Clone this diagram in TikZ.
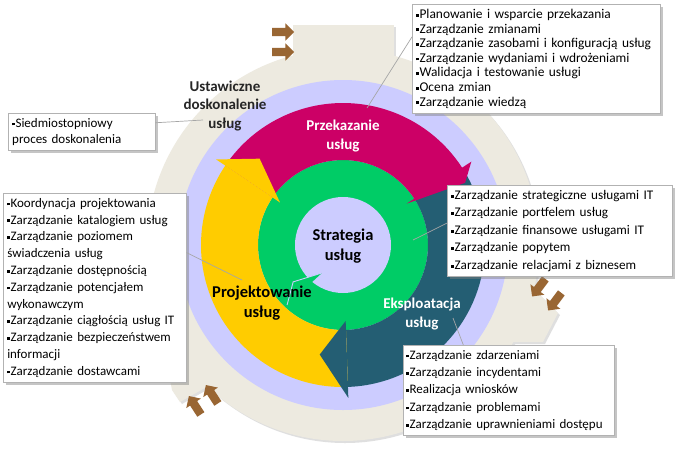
\documentclass[tikz,border=0pt]{standalone}
\usepackage{fontspec}
\setmainfont{Carlito}
\usetikzlibrary{shapes.arrows}
\usetikzlibrary{shadows}
\definecolor{csiBeige}{RGB}{237,234,224}
\definecolor{csiLav}{RGB}{204,204,255}
\definecolor{stMagenta}{RGB}{204,0,102}
\definecolor{soTeal}{RGB}{36,94,115}
\definecolor{sdYellow}{RGB}{255,204,0}
\definecolor{ssGreen}{RGB}{0,204,102}
\definecolor{stepBrown}{RGB}{153,102,51}
\definecolor{darkText}{RGB}{38,38,38}
\newcommand\sqb{\rule[0.3ex]{2.8pt}{2.8pt}\kern0.5pt}
\tikzset{
    listbox/.style={
           rectangle,
           draw=gray!60, fill=white,
           line width=0.5pt,
           anchor=north west,
           align=left,
           inner xsep=4pt, inner ysep=5pt,
           text=black,
           drop shadow={shadow xshift=2.5pt, shadow yshift=-2.5pt, opacity=0.45},
           },
    phase/.style={
           align=center,
           font=\fontsize{15}{18.5}\selectfont\bfseries,
           },
    bigphase/.style={
           align=center,
           font=\fontsize{16.5}{20}\selectfont\bfseries,
           },
    pinline/.style={draw=gray!70, line width=0.7pt},
    steparrow/.style={
           single arrow,
           fill=stepBrown,
           inner sep=0pt,
           text height=8pt, text depth=0pt,
           minimum height=22pt,
           single arrow head extend=4.5pt,
           single arrow head indent=0pt,
           },
}
\begin{document}
\begin{tikzpicture}[x=1pt,y=-1pt]
    \useasboundingbox[fill=white] (0,0) rectangle (685,448);
    \coordinate (O) at (343,245);
    % outer ring (ustawiczne doskonalenie)
    \begin{scope}[shift={(O)}]
        \foreach \dx/\col in {2/gray!25, 0/csiBeige} {
            \begin{scope}[shift={(\dx,\dx)}]
                \fill[\col] (0,0) circle[radius=196];
                \fill[\col] (-50,-220) rectangle (51,-185);
                \fill[\col] (172,17) -- (190,43) -- (215,68) -- (200,97) -- (157,97) -- cycle;
                \fill[\col] (-178,110) -- (-171,145) -- (-163,157) -- (-133,140) -- (-128,125) -- cycle;
            \end{scope}
        }
        \fill[csiLav] (0,0) circle[radius=165];
        % strategy ring
        \fill[ssGreen] (0,0) circle[radius=85];
        \fill[csiLav] (0,0) circle[radius=48];
        \fill[ssGreen] (127:35) -- (143.5:62) -- (133:82) -- cycle;
        \draw[csiLav, line width=0.9pt] (127:35) -- (143.5:62) -- (133:82);
        % colored ring
        \foreach \col/\a/\b in {stMagenta/214/328, soTeal/328/448, sdYellow/448/574}
            \fill[\col] (\a:142) arc[start angle=\a, end angle=\b, radius=142]
                -- (\b:85) arc[start angle=\b, end angle=\a, radius=85] -- cycle;
        \foreach \col/\b/\t/\r in {stMagenta/327/333/137, soTeal/448/462/112, sdYellow/574/586/120}
            \fill[\col] (\b:76) -- (\b:153) -- (\t:\r) -- cycle;
    \end{scope}

    \node[phase, text=darkText] (ust) at (225,106) {Ustawiczne\\doskonalenie\\usług};
    \node[phase, text=white] (prz) at (343,136) {Przekazanie\\usług};
    \node[bigphase, text=black] (strat) at (343,246) {Strategia\\usług};
    \node[bigphase, text=black] (proj) at (262,303) {Projektowanie\\usług};
    \node[phase, text=white] (eks) at (422,314) {Eksploatacja\\usług};

    % step arrows
    \node[steparrow] (s1) at (281,32) {};
    \node[steparrow] (s2) at (281,52) {};
    \node[steparrow, rotate=-127] (s3) at (540,286) {};
    \node[steparrow, rotate=-127] (s4) at (556,300) {};
    \node[steparrow, rotate=123] (s5) at (196,407) {};
    \node[steparrow, rotate=123] (s6) at (213,396) {};

    % pointers
    \coordinate (pPrz) at (367,108);
    \coordinate (pUst) at (203,120);
    \coordinate (pProj) at (242,280);
    \coordinate (pStrat) at (413,240);
    \coordinate (pEks) at (453,318);

    % process lists
    \node[listbox, text width=240pt, font=\fontsize{13.4}{14.6}\selectfont] (przList) at (412,4)
        {\sqb Planowanie i wsparcie przekazania\\
         \sqb Zarządzanie zmianami\\
         \sqb Zarządzanie zasobami i konfiguracją usług\\
         \sqb Zarządzanie wydaniami i wdrożeniami\\
         \sqb Walidacja i testowanie usługi\\
         \sqb Ocena zmian\\
         \sqb Zarządzanie wiedzą};
    \node[listbox, text width=139pt, font=\fontsize{13}{16}\selectfont] (ustList) at (8,113)
        {\sqb Siedmiostopniowy\\proces doskonalenia};
    \node[listbox, text width=175pt, font=\fontsize{13}{16.8}\selectfont] (projList) at (3,193)
        {\sqb Koordynacja projektowania\\
         \sqb Zarządzanie katalogiem usług\\
         \sqb Zarządzanie poziomem\\
         świadczenia usług\\
         \sqb Zarządzanie dostępnością\\
         \sqb Zarządzanie potencjałem\\
         wykonawczym\\
         \sqb Zarządzanie ciągłością usług IT\\
         \sqb Zarządzanie bezpieczeństwem\\
         informacji\\
         \sqb Zarządzanie dostawcami};
    \node[listbox, text width=217pt, font=\fontsize{13.2}{17.5}\selectfont] (stratList) at (447,185)
        {\sqb Zarządzanie strategiczne usługami IT\\
         \sqb Zarządzanie portfelem usług\\
         \sqb Zarządzanie finansowe usługami IT\\
         \sqb Zarządzanie popytem\\
         \sqb Zarządzanie relacjami z biznesem};
    \node[listbox, text width=205pt, inner xsep=3pt, font=\fontsize{13}{17.3}\selectfont] (eksList) at (403,345)
        {\sqb Zarządzanie zdarzeniami\\
         \sqb Zarządzanie incydentami\\
         \sqb Realizacja wniosków\\
         \sqb Zarządzanie problemami\\
         \sqb Zarządzanie uprawnieniami dostępu};

    \draw[pinline] (pPrz) -- (przList.170);
    \draw[pinline] (pUst) -- (ustList.7);
    \draw[pinline] (pProj) -- (projList.21);
    \draw[pinline] (pStrat) -- (stratList.176);
    \draw[pinline] (pEks) -- (eksList.135);
\end{tikzpicture}
\end{document}
